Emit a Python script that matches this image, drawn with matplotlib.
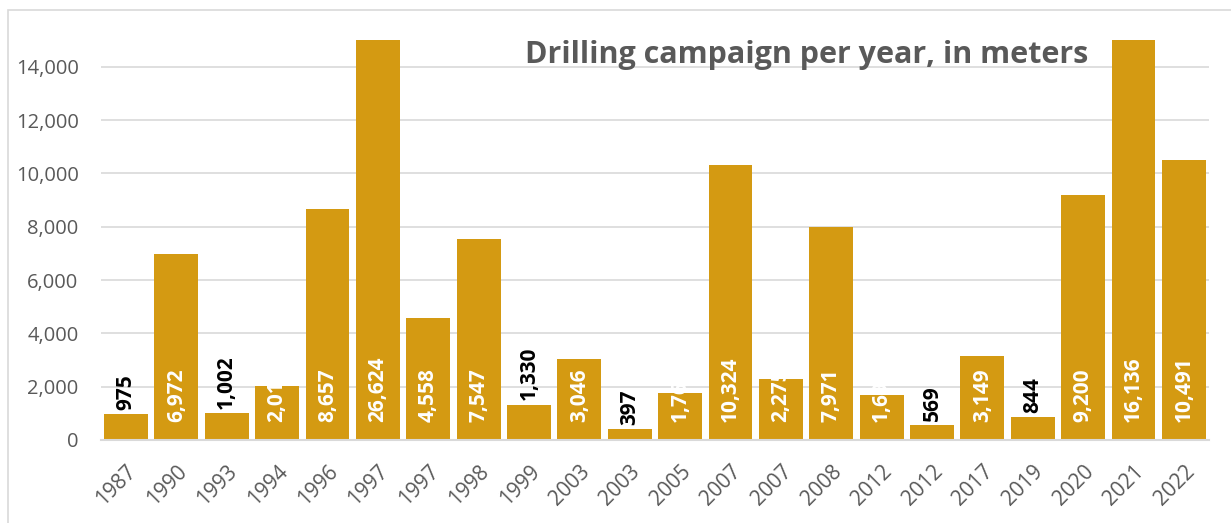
import matplotlib
matplotlib.use("Agg")
import matplotlib.pyplot as plt
from matplotlib.patches import Rectangle
from matplotlib.ticker import FuncFormatter

# drilling meters per campaign (some years had more than one campaign)
years = ["1987", "1990", "1993", "1994", "1996", "1997", "1997", "1998", "1999", "2003", "2003",
         "2005", "2007", "2007", "2008", "2012", "2012", "2017", "2019", "2020", "2021", "2022"]
meters = [975, 6972, 1002, 2015, 8657, 26624, 4558, 7547, 1330, 3046, 397,
          1765, 10324, 2275, 7971, 1690, 569, 3149, 844, 9200, 16136, 10491]

BAR = "#D49A12"
GREY = "#595959"
FONT = "Open Sans"

plt.rcParams["font.family"] = [FONT, "DejaVu Sans"]

fig = plt.figure(figsize=(12.31, 5.23), dpi=100)
ax = fig.add_axes([0.0819, 0.1587, 0.9003, 0.7648])

x = list(range(len(years)))
ax.bar(x, meters, width=0.87, color=BAR, zorder=2)

ax.set_xlim(-0.5, len(years) - 0.5)
ax.set_ylim(0, 15000)
ax.set_yticks(range(0, 15000, 2000))
ax.yaxis.set_major_formatter(FuncFormatter(lambda v, p: f"{int(v):,}"))
ax.grid(axis="y", color="#D9D9D9", linewidth=1.2, zorder=0)
ax.tick_params(axis="y", length=0, labelsize=14.5, colors=GREY, pad=16)
ax.set_xticks(x)
ax.set_xticklabels(years, rotation=45, ha="right", rotation_mode="anchor")
ax.tick_params(axis="x", length=0, labelsize=15, colors=GREY, pad=15)
for s in ["top", "right", "left"]:
    ax.spines[s].set_visible(False)
ax.spines["bottom"].set_color("#D9D9D9")
ax.spines["bottom"].set_linewidth(1.5)

# value labels: small bars get dark labels on top, the rest white ones inside
for xi, v in zip(x, meters):
    if v < 1500:
        ax.annotate(f"{v:,}", (xi, v), xytext=(0, 3), textcoords="offset points",
                    rotation=90, ha="center", va="bottom", fontsize=15,
                    fontweight="bold", color="black", zorder=4)
    else:
        ax.annotate(f"{v:,}", (xi, 0), xytext=(0, 13), textcoords="offset points",
                    rotation=90, ha="center", va="bottom", fontsize=15,
                    fontweight="bold", color="white", zorder=4,
                    annotation_clip=False)

ax.text(0.637, 0.9625, "Drilling campaign per year, in meters", transform=ax.transAxes,
        ha="center", va="center", fontsize=22, fontweight="bold", color=GREY, zorder=5)

fig.patches.append(Rectangle((8 / 1231, -20 / 523), 1240 / 1231, 533 / 523,
                             transform=fig.transFigure, fill=False,
                             edgecolor="#D9D9D9", linewidth=1.2))

fig.savefig("out.png", dpi=100)
